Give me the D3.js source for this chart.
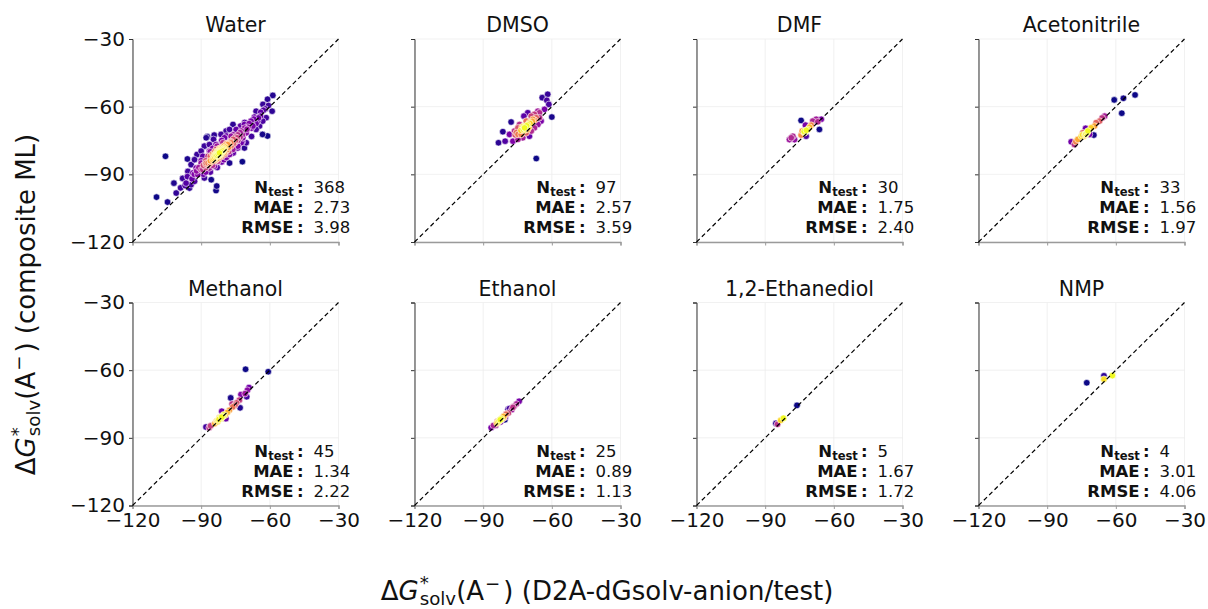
<!DOCTYPE html>
<html><head><meta charset="utf-8">
<script src="https://cdn.jsdelivr.net/npm/d3@7"></script>
<style>
body{margin:0;background:#fff}
svg{display:block}
text{font-family:"DejaVu Sans",sans-serif;white-space:pre}
</style>
</head><body><svg id="chart" width="1208" height="609"></svg>
<script>
// ---------------- data ----------------
const solvents = ["Water","DMSO","DMF","Acetonitrile","Methanol","Ethanol","1,2-Ethanediol","NMP"];
const nTest = [368, 97, 30, 33, 45, 25, 5, 4];
const maeVals = ["2.73","2.57","1.75","1.56","1.34","0.89","1.67","3.01"];
const rmseVals = ["3.98","3.59","2.40","1.97","2.22","1.13","1.72","4.06"];
const tickValues = [-120, -90, -60, -30];
const tickLabels = ["\u2212120","\u221290","\u221260","\u221230"];

// [reference (x), predicted (y)] pairs
const waterPts = [
[-58.7,-55.0],[-61.0,-56.7],[-60.6,-59.5],[-59.0,-62.0],[-62.8,-61.6],[-64.1,-64.2],[-66.7,-64.6],[-65.3,-66.4],
[-68.2,-66.4],[-63.1,-66.4],[-61.6,-64.9],[-63.2,-72.3],[-61.0,-73.0],[-76.1,-67.9],[-72.8,-68.6],[-71.1,-67.9],
[-69.6,-69.1],[-67.4,-68.6],[-72.5,-70.8],[-70.3,-71.6],[-68.0,-73.2],[-66.0,-70.1],[-64.5,-68.6],[-74.7,-70.1],
[-77.6,-70.1],[-79.1,-70.8],[-81.3,-72.3],[-84.3,-72.6],[-87.3,-73.3],[-87.8,-73.8],[-84.6,-74.5],[-79.8,-73.8],
[-76.9,-73.1],[-74.3,-73.8],[-71.8,-73.8],[-70.3,-76.0],[-72.5,-76.0],[-75.4,-76.0],[-78.4,-76.8],[-80.5,-76.0],
[-83.5,-76.8],[-86.4,-76.8],[-88.6,-77.5],[-90.0,-79.7],[-91.8,-81.2],[-89.3,-82.0],[-86.4,-79.7],[-83.5,-79.0],
[-81.3,-78.3],[-78.6,-79.0],[-76.2,-79.0],[-74.0,-78.3],[-71.1,-78.3],[-84.2,-82.0],[-82.0,-81.2],[-79.8,-81.2],
[-77.6,-81.2],[-77.6,-85.0],[-80.1,-83.5],[-82.7,-84.2],[-85.6,-84.2],[-87.8,-85.0],[-90.0,-85.0],[-92.9,-83.5],
[-96.0,-83.2],[-94.4,-85.7],[-92.2,-87.2],[-89.3,-87.9],[-86.4,-87.2],[-84.2,-86.4],[-95.8,-88.7],[-93.6,-89.4],
[-91.5,-90.1],[-88.6,-91.6],[-85.6,-92.4],[-98.1,-91.8],[-96.6,-93.9],[-94.4,-94.6],[-95.1,-96.1],[-92.9,-93.1],
[-101.9,-93.9],[-100.9,-98.3],[-104.7,-102.3],[-109.5,-100.1],[-105.6,-82.0],[-83.5,-97.2],[-83.2,-95.2],[-72.0,-84.4],
[-90,-88],[-89,-86],[-88,-87],[-88,-84],[-87,-86],[-87,-82],[-86,-85],[-86,-82],[-85,-86],[-85,-81],[-84,-84],
[-84,-83],[-84,-80],[-83.5,-82],[-83,-80.5],[-83,-83],[-82.5,-81],[-82,-79.5],[-82,-82.5],[-81.5,-80.5],[-81,-80],
[-81,-82],[-80.5,-79],[-80,-80.5],[-80,-77.5],[-79.5,-78],[-79,-79.5],[-79,-76.5],[-78,-78],[-78,-80],[-77,-75.5],
[-77,-77.5],[-76,-74.5],[-76,-76.5],[-75,-75],[-74,-75],[-73,-73.5],[-70,-70],[-68,-69.5],[-66,-67.5],[-64,-62.5],
[-62,-61],[-89,-90],[-91,-87],[-90,-84],[-93,-90],[-88,-89],[-86,-89],[-83,-87],[-81,-84.5],[-79,-82.5],[-76,-80.5],
[-74,-77.5],[-72,-75.5],[-79,-73],[-81,-75],[-83,-77.5],[-85,-78.5],[-86,-80],[-76,-72.5],
[-71,-67],[-66,-62],[-63,-59],[-94,-92],[-92,-88.5],[-96,-91],[-97,-95],
[-99,-96],[-84.5,-81.5],[-82.5,-80],[-81.5,-81.5],[-83,-81.5],[-82,-81],[-80.5,-80],[-84,-82.5],[-85,-83.5],[-82,-78.5],
[-80,-78.5],
[-82,-80.5],[-82.5,-80.5],[-81.5,-80],[-83,-81],[-82,-80],[-81,-79.5],[-83.5,-81.5],[-82.5,-81.5],[-81.5,-79],
[-80.5,-79.5],[-83,-80],[-84,-81.5],[-82,-79],[-81,-78.5],[-84.5,-83],[-83.5,-83.5],[-80,-79],[-82.8,-82],
[-81.8,-81.2],[-83.2,-80.2],
[-69,-67.5],[-67,-65.5],[-65,-65],[-73,-71.5],[-74,-72.5],[-72,-72.5],[-87,-85],[-88,-85.5],[-86,-84],
[-78,-76.5],[-77,-76],[-71,-69.5],[-75,-73.5]
];
const dmsoPts = [
[-61.8,-54.5],[-64.2,-56.0],[-62.2,-57.2],[-61.3,-59.0],[-60.0,-64.6],[-65.4,-62.7],[-63.2,-61.2],[-72.2,-64.2],
[-77.8,-66.8],[-81.4,-71.1],[-83.3,-76.0],[-80.4,-75.3],[-78.5,-72.3],[-66.8,-83.0],
[-71.9,-69.4],[-74.8,-69.4],[-68.3,-65.6],[-66.8,-64.9],[-65.4,-64.9],[-64.7,-66.4],[-66.1,-67.9],[-67.6,-69.4],
[-69.0,-70.8],[-69.8,-73.1],[-72.7,-73.8],[-74.8,-74.5],[-77.0,-75.3],[-73.4,-72.3],[-71.2,-71.6],[-74.8,-72.3],
[-76.3,-70.8],[-74.1,-67.9],[-69.8,-67.1],[-71.2,-66.4],[-69.0,-64.2],[-67.6,-63.4],[-66.1,-62.0],[-70.5,-62.7],
[-72.5,-70],[-71,-68.5],[-73,-69],[-70.5,-68],[-72,-70.5],[-70,-69],[-73.5,-70.5],[-69.5,-67.5],[-68.5,-66.5],
[-67.5,-66],[-75.5,-71.5],[-76,-72.5],[-70.5,-70],[-72,-69.2],[-71.6,-69.8],[-72.4,-68.8]
];
const dmfPts = [
[-74.3,-66.1],[-66.3,-70.1],[-67.7,-65.6],[-65.5,-65.6],[-69.2,-66.4],[-72.4,-68.2],[-73.8,-70.8],[-72.8,-71.6],
[-71.4,-70.1],[-70.6,-69.1],[-69.9,-68.2],[-72.1,-73.1],[-74.3,-72.6],[-78.6,-73.8],[-77.9,-73.1],[-77.2,-74.6],
[-79.4,-74.6],[-67.0,-66.7],[-73.0,-71.0],[-72.0,-70.5],[-72.6,-71.2]
];
const acnPts = [
[-60.7,-57.0],[-56.7,-56.3],[-51.6,-54.8],[-57.4,-62.9],[-64.9,-64.2],[-67.1,-66.4],[-68.6,-67.1],[-69.3,-68.6],
[-70.8,-69.4],[-72.2,-70.8],[-73.2,-69.6],[-73.0,-72.0],[-74.0,-73.1],[-75.1,-73.1],[-71.5,-72.3],[-69.6,-72.6],
[-74.4,-71.6],[-79.5,-75.6],[-78.1,-76.8],[-76.6,-74.5],[-73.5,-72.5],[-72.5,-71.5],[-66.0,-65.0],[-74.5,-72.5],
[-77.5,-75.5],[-73.2,-72.2]
];
const methanolPts = [
[-70.6,-59.6],[-60.7,-60.7],[-69.1,-67.7],[-69.8,-68.9],[-70.8,-70.4],[-70.1,-71.8],[-72.6,-70.8],[-77.1,-72.3],
[-73.3,-73.3],[-74.5,-74.5],[-73.0,-76.7],[-76.2,-76.3],[-77.7,-77.8],[-81.0,-78.2],[-79.6,-80.0],[-81.3,-81.5],
[-79.2,-81.5],[-82.5,-82.2],[-84.0,-83.7],[-85.9,-84.7],[-87.9,-85.2],[-75.2,-75.5],[-78.6,-78.8],
[-80.5,-80.5],[-82.0,-81.0],[-83.0,-83.0],[-86.5,-85.5],[-76.5,-75.0],
[-81.8,-81.2],[-82.2,-81.8],[-81.0,-80.8],[-83.2,-82.6],[-80.2,-79.8],[-82.8,-82.8]
];
const ethanolPts = [
[-86.5,-85.5],[-85.5,-84.5],[-84.5,-84.5],[-83.5,-83.0],[-83.0,-82.5],[-82.5,-82.0],[-82.0,-81.5],[-81.5,-81.5],
[-81.0,-80.5],[-80.5,-82.0],[-80.0,-79.5],[-79.0,-79.0],[-78.5,-77.0],[-79.1,-77.3],[-77.5,-77.5],[-77.0,-76.5],
[-76.5,-76.0],[-75.5,-75.0],[-74.3,-73.8],[-84.0,-83.5],[-82.5,-83.0],[-81.0,-81.0],[-80.3,-80.8],[-83.8,-82.8],
[-82.8,-82.2]
];
const ethanediolPts = [[-85.3,-83.6],[-84.6,-84.0],[-83.2,-82.2],[-82.0,-81.3],[-76.1,-75.6]];
const nmpPts = [[-72.7,-65.6],[-65.2,-64.0],[-65.2,-62.5],[-61.5,-62.4]];

const panelPoints = [waterPts, dmsoPts, dmfPts, acnPts, methanolPts, ethanolPts, ethanediolPts, nmpPts];

// ---------------- layout ----------------
const svg = d3.select("#chart");
const W = 206, H = 203;
const colX = [132.5, 414.5, 696.5, 978.5];
const rowY = [39, 302.5];
const x = d3.scaleLinear().domain([-120, -30]).range([0, W]);
const y = d3.scaleLinear().domain([-120, -30]).range([H, 0]);

// Gaussian KDE (full covariance, Scott's rule) for density colouring
function kde(pts) {
  const n = pts.length;
  const mx = d3.mean(pts, p => p[0]), my = d3.mean(pts, p => p[1]);
  let sxx = 0, syy = 0, sxy = 0;
  pts.forEach(p => { const dx = p[0]-mx, dy = p[1]-my; sxx += dx*dx; syy += dy*dy; sxy += dx*dy; });
  sxx /= (n-1); syy /= (n-1); sxy /= (n-1);
  const f = Math.pow(n, -1/3);
  const a = sxx*f, b = sxy*f, c = syy*f;
  const det = a*c - b*b;
  const ia = c/det, ib = -b/det, ic = a/det;
  return pts.map(p => d3.sum(pts, q => {
    const dx = p[0]-q[0], dy = p[1]-q[1];
    return Math.exp(-0.5*(ia*dx*dx + 2*ib*dx*dy + ic*dy*dy));
  }));
}

solvents.forEach((name, i) => {
  const r = Math.floor(i/4), cI = i % 4;
  const g = svg.append("g").attr("transform", `translate(${colX[cI]},${rowY[r]})`);

  // grid
  g.append("g").selectAll("line").data(tickValues).join("line")
    .attr("x1", d => x(d)).attr("x2", d => x(d)).attr("y1", 0).attr("y2", H)
    .attr("stroke", "#ededed").attr("stroke-width", 0.8);
  g.append("g").selectAll("line").data(tickValues).join("line")
    .attr("y1", d => y(d)).attr("y2", d => y(d)).attr("x1", 0).attr("x2", W)
    .attr("stroke", "#ededed").attr("stroke-width", 0.8);

  // axes
  const xAxis = d3.axisBottom(x).tickValues(tickValues).tickSize(3.5).tickPadding(4)
    .tickFormat((d, k) => r === 1 ? tickLabels[k] : "");
  const yAxis = d3.axisLeft(y).tickValues(tickValues).tickSize(3.5).tickPadding(4)
    .tickFormat((d, k) => cI === 0 ? tickLabels[k] : "");
  const gx = g.append("g").attr("transform", `translate(0,${H})`).call(xAxis);
  gx.select(".domain").attr("stroke", "#9a9a9a").attr("stroke-width", 1.3);
  gx.selectAll(".tick line").attr("stroke", "#9a9a9a");
  gx.selectAll(".tick text").attr("font-size", 20).attr("fill", "#111")
    .attr("font-family", "DejaVu Sans");
  const gy = g.append("g").call(yAxis);
  gy.select(".domain").attr("stroke", "#333").attr("stroke-width", 1);
  gy.selectAll(".tick line").attr("stroke", "#333");
  gy.selectAll(".tick text").attr("font-size", 20).attr("fill", "#111")
    .attr("font-family", "DejaVu Sans");

  // points coloured by density
  const pts = panelPoints[i];
  const dens = kde(pts);
  const color = d3.scaleSequential(d3.interpolatePlasma).domain(d3.extent(dens));
  const items = pts.map((p, k) => ({p, d: dens[k]})).sort((a, b) => a.d - b.d);
  g.append("g").selectAll("circle").data(items).join("circle")
    .attr("cx", d => x(d.p[0])).attr("cy", d => y(d.p[1])).attr("r", 3.3)
    .attr("fill", d => color(d.d)).attr("stroke", "#fff").attr("stroke-width", 0.6);

  // diagonal
  g.append("line")
    .attr("x1", x(-120)).attr("y1", y(-120)).attr("x2", x(-30)).attr("y2", y(-30))
    .attr("stroke", "#000").attr("stroke-width", 1.2).attr("stroke-dasharray", "4.5,3");

  // title
  g.append("text").attr("x", W/2).attr("y", -7).attr("text-anchor", "middle")
    .attr("font-size", 20.5).attr("fill", "#111").text(name);

  // annotation
  const ann = g.append("g").attr("font-size", 16.5).attr("fill", "#111");
  const lx = 171, vx = 181;
  const t1 = ann.append("text").attr("x", lx).attr("y", 154).attr("text-anchor", "end").attr("font-weight", "bold");
  t1.append("tspan").text("N");
  t1.append("tspan").attr("font-size", "70%").attr("dy", 3).text("test");
  t1.append("tspan").attr("dy", -3).attr("dx", 3).text(":");
  ann.append("text").attr("x", lx).attr("y", 174).attr("text-anchor", "end").attr("font-weight", "bold").text("MAE\u2009:");
  ann.append("text").attr("x", lx).attr("y", 194).attr("text-anchor", "end").attr("font-weight", "bold").text("RMSE\u2009:");
  ann.append("text").attr("x", vx).attr("y", 154).text(String(nTest[i]));
  ann.append("text").attr("x", vx).attr("y", 174).text(maeVals[i]);
  ann.append("text").attr("x", vx).attr("y", 194).text(rmseVals[i]);
});

// axis labels
function mathLabel(t, rest) {
  t.append("tspan").text("\u0394");
  t.append("tspan").attr("font-style", "italic").text("G");
  t.append("tspan").attr("font-size", "70%").attr("dy", -11).attr("dx", 1).text("*");
  t.append("tspan").attr("font-size", "70%").attr("dy", 16).attr("dx", -9).text("solv");
  t.append("tspan").attr("dy", -5).text("(A");
  t.append("tspan").attr("font-size", "70%").attr("dy", -10).attr("dx", 1).text("\u2212");
  t.append("tspan").attr("dy", 10).attr("dx", 3).text(")");
  t.append("tspan").text(rest);
}
const ylab = svg.append("text").attr("transform", "translate(35,304.5) rotate(-90)")
  .attr("text-anchor", "middle").attr("font-size", 26).attr("fill", "#111");
mathLabel(ylab, " (composite ML)");
const xlab = svg.append("text").attr("x", 607).attr("y", 600)
  .attr("text-anchor", "middle").attr("font-size", 26).attr("fill", "#111");
mathLabel(xlab, " (D2A-dGsolv-anion/test)");
</script>
</body></html>
